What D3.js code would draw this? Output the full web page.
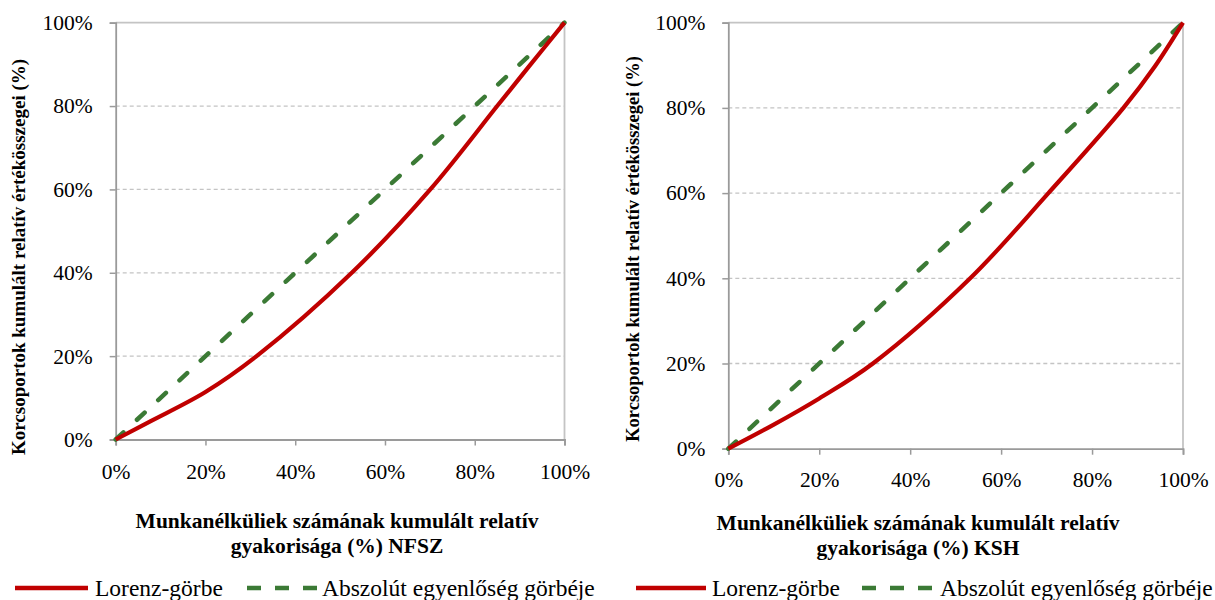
<!DOCTYPE html>
<html>
<head>
<meta charset="utf-8">
<script src="https://cdn.jsdelivr.net/npm/d3@7"></script>
<style>
  html, body { margin: 0; padding: 0; background: #fff; }
  svg { display: block; }
  text { font-family: "Liberation Serif", "Times New Roman", serif; fill: #000; }
</style>
</head>
<body>
<svg id="chart" width="1215" height="600"></svg>
<script>
// Cumulative shares (%) of the unemployed (x) vs. age-group totals (y)
const nfszX = [0, 7.6, 20, 31.4, 52.6, 70.1, 85, 92, 100];
const nfszY = [0, 4.3, 11.4, 20, 40, 60, 80, 89.4, 100];
const kshX  = [0, 9.9, 20, 31.8, 53.2, 70.4, 86.9, 93.8, 100];
const kshY  = [0, 5.6, 11.8, 20, 40, 60, 80, 89.7, 100];
// Line of perfect equality
const equalX = [0, 100];
const equalY = [0, 100];

const tickValues = [0, 20, 40, 60, 80, 100];
const tickLabels = ["0%", "20%", "40%", "60%", "80%", "100%"];

const yTitle = "Korcsoportok kumulált relatív értékösszegei (%)";
const xTitleLine1 = "Munkanélküliek számának kumulált relatív";
const nfszTitleLine2 = "gyakorisága (%) NFSZ";
const kshTitleLine2 = "gyakorisága (%) KSH";
const legendLabels = ["Lorenz-görbe", "Abszolút egyenlőség görbéje"];

const RED = "#c00000";
const GREEN = "#3b7a35";

const svg = d3.select("#chart");

const panels = [
  { xs: nfszX, ys: nfszY, title2: nfszTitleLine2,
    left: 115.7, right: 564.5, top: 22.7, bottom: 439.5,
    yTitleX: 25, yTitleY: 257, yTitleSize: 19,
    xTitleX: 337, xTitleY: 528, xTickY: 479,
    legendX: 15, legend: [0, 73, 80, 232, 303, 307] },
  { xs: kshX, ys: kshY, title2: kshTitleLine2,
    left: 728.3, right: 1183, top: 22.7, bottom: 448.7,
    yTitleX: 639, yTitleY: 249, yTitleSize: 18.5,
    xTitleX: 918, xTitleY: 530, xTickY: 487,
    legendX: 636, legend: [0, 70, 76, 226, 300, 304] }
];

panels.forEach(p => {
  const g = svg.append("g");
  const x = d3.scaleLinear().domain([0, 100]).range([p.left, p.right]);
  const y = d3.scaleLinear().domain([0, 100]).range([p.bottom, p.top]);

  // dashed horizontal gridlines
  g.append("g").selectAll("line")
    .data(tickValues.filter(v => v > 0 && v < 100))
    .join("line")
    .attr("x1", x(0)).attr("x2", x(100))
    .attr("y1", d => y(d)).attr("y2", d => y(d))
    .attr("stroke", "#c4c4c4").attr("stroke-width", 1.3)
    .attr("stroke-dasharray", "4,3");

  // plot area frame (top and right)
  g.append("line").attr("x1", x(0)).attr("x2", x(100))
    .attr("y1", y(100)).attr("y2", y(100))
    .attr("stroke", "#c4c4c4").attr("stroke-width", 1.8);
  g.append("line").attr("x1", x(100)).attr("x2", x(100))
    .attr("y1", y(100)).attr("y2", y(0))
    .attr("stroke", "#c4c4c4").attr("stroke-width", 1.8);

  // y axis
  const yAxis = g.append("g").attr("transform", `translate(${x(0)},0)`)
    .call(d3.axisLeft(y).tickValues(tickValues)
      .tickFormat((d, i) => tickLabels[i]).tickSize(6).tickPadding(17));
  yAxis.select(".domain").attr("stroke", "#9a9a9a").attr("stroke-width", 1.8);
  yAxis.selectAll(".tick line").attr("stroke", "#9a9a9a").attr("stroke-width", 1.5);
  yAxis.selectAll(".tick text")
    .style("font-family", '"Liberation Serif", serif')
    .style("font-size", "21.5px").attr("fill", "#000");

  // x axis
  const xAxis = g.append("g").attr("transform", `translate(0,${y(0)})`)
    .call(d3.axisBottom(x).tickValues(tickValues)
      .tickFormat((d, i) => tickLabels[i]).tickSize(6));
  xAxis.select(".domain").attr("stroke", "#9a9a9a").attr("stroke-width", 1.8);
  xAxis.selectAll(".tick line").attr("stroke", "#9a9a9a").attr("stroke-width", 1.5);
  xAxis.selectAll(".tick text")
    .style("font-family", '"Liberation Serif", serif')
    .style("font-size", "21.5px").attr("fill", "#000")
    .attr("dy", null).attr("y", p.xTickY - p.bottom);

  // equality line
  const eqLine = d3.line().x(d => x(d[0])).y(d => y(d[1]));
  g.append("path")
    .datum(d3.zip(equalX, equalY))
    .attr("d", eqLine)
    .attr("fill", "none").attr("stroke", GREEN)
    .attr("stroke-width", 4.5).attr("stroke-linecap", "round")
    .attr("stroke-dasharray", "10.5,18.5");

  // Lorenz curve (smoothed)
  const lorenz = d3.line().x(d => x(d[0])).y(d => y(d[1]))
    .curve(d3.curveCatmullRom.alpha(0.5));
  g.append("path")
    .datum(d3.zip(p.xs, p.ys))
    .attr("d", lorenz)
    .attr("fill", "none").attr("stroke", RED)
    .attr("stroke-width", 4.2).attr("stroke-linejoin", "round");

  // axis titles
  g.append("text")
    .attr("transform", `translate(${p.yTitleX},${p.yTitleY}) rotate(-90)`)
    .attr("text-anchor", "middle")
    .style("font-weight", "bold").style("font-size", p.yTitleSize + "px")
    .text(yTitle);

  const xt = g.append("text")
    .attr("text-anchor", "middle")
    .style("font-weight", "bold").style("font-size", "21.5px");
  xt.append("tspan").attr("x", p.xTitleX).attr("y", p.xTitleY).text(xTitleLine1);
  xt.append("tspan").attr("x", p.xTitleX).attr("y", p.xTitleY + 25).text(p.title2);

  // legend
  const L = p.legend;
  const lg = g.append("g").attr("transform", `translate(${p.legendX},588)`);
  lg.append("line").attr("x1", L[0]).attr("x2", L[1]).attr("y1", 0).attr("y2", 0)
    .attr("stroke", RED).attr("stroke-width", 4.5);
  lg.append("text").attr("x", L[2]).attr("y", 8)
    .style("font-size", "23.5px").text(legendLabels[0]);
  lg.append("line").attr("x1", L[3]).attr("x2", L[4]).attr("y1", 0).attr("y2", 0)
    .attr("stroke", GREEN).attr("stroke-width", 4.5)
    .attr("stroke-dasharray", "14,14");
  lg.append("text").attr("x", L[5]).attr("y", 8)
    .style("font-size", "23.5px").text(legendLabels[1]);
});
</script>
</body>
</html>
